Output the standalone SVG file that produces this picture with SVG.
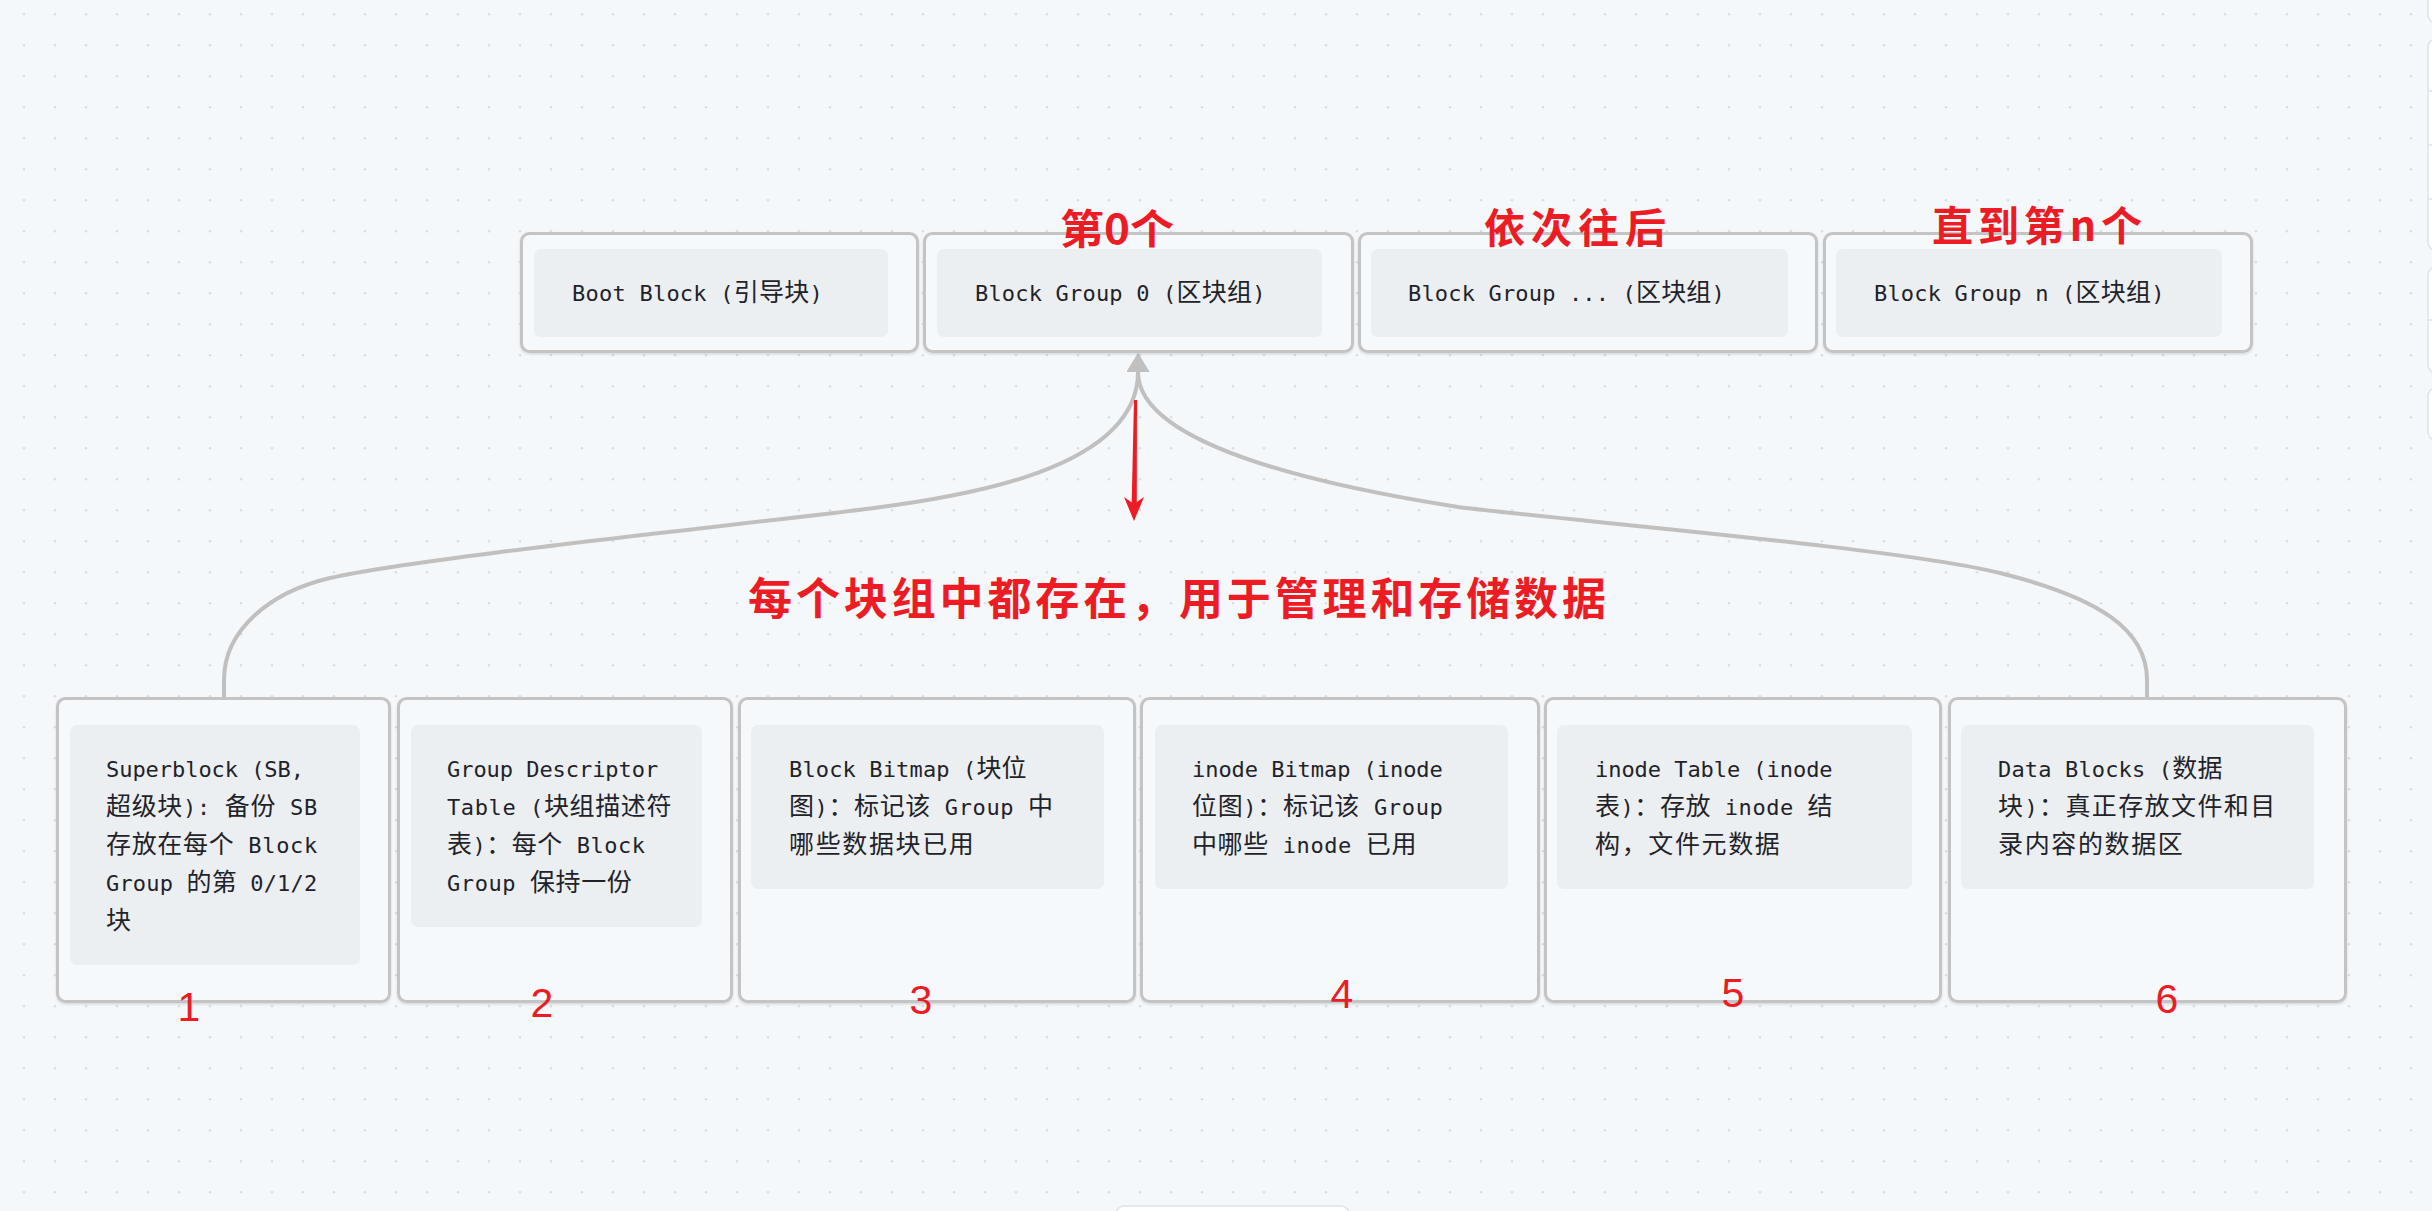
<svg xmlns="http://www.w3.org/2000/svg" width="2432" height="1211" viewBox="0 0 2432 1211">
<defs>
<style>
.t{font-family:"DejaVu Sans Mono","Noto Sans CJK SC",monospace;font-size:22px;fill:#1f2329}
.c{font-family:"Noto Sans CJK SC","DejaVu Sans",sans-serif;font-size:25px}
.outer{fill:#f5f9fc;stroke:#c4c4c4;stroke-width:3;filter:url(#sh)}
.inner{fill:#eceff2}
.edge{fill:none;stroke:#c0c0c0;stroke-width:4}
.red{fill:#ed1c24;font-family:"Noto Sans CJK SC",sans-serif;font-weight:700}
.num{fill:#ed1c24;font-family:"Liberation Sans",sans-serif;font-size:41px;text-anchor:middle}
.tool{fill:#ffffff;stroke:#dde2e8;stroke-width:1.5}
</style>
<pattern id="dots" x="0" y="0" width="31" height="31" patternUnits="userSpaceOnUse">
<circle cx="24" cy="14.3" r="1.3" fill="#dadee3"/>
</pattern>
<filter id="sh" x="-5%" y="-5%" width="110%" height="115%">
<feDropShadow dx="0" dy="1.5" stdDeviation="1" flood-color="#000" flood-opacity="0.12"/>
</filter>
<marker id="arr" viewBox="0 0 19 23" refX="0" refY="11.5" markerWidth="19" markerHeight="23" markerUnits="userSpaceOnUse" orient="auto">
<path d="M0,0 L19,11.5 L0,23 Z" fill="#c0c0c0"/>
</marker>
</defs>
<rect x="0" y="0" width="2432" height="1211" fill="#f4f8fb"/>
<rect x="0" y="0" width="2432" height="1211" fill="url(#dots)"/>

<g id="toolbar">
<rect class="tool" x="2428" y="-10" width="30" height="33" rx="8"/>
<rect class="tool" x="2428" y="39" width="30" height="211" rx="8"/>
<line x1="2428" y1="91" x2="2432" y2="91" stroke="#dde2e8" stroke-width="1.5"/>
<line x1="2428" y1="145" x2="2432" y2="145" stroke="#dde2e8" stroke-width="1.5"/>
<line x1="2428" y1="199" x2="2432" y2="199" stroke="#dde2e8" stroke-width="1.5"/>
<rect class="tool" x="2428" y="267" width="30" height="106" rx="8"/>
<line x1="2428" y1="320" x2="2432" y2="320" stroke="#dde2e8" stroke-width="1.5"/>
<rect class="tool" x="2428" y="388" width="30" height="52" rx="8"/>
<rect class="tool" x="1116" y="1206" width="233" height="30" rx="8"/>
</g>

<g id="connectors">
<path class="edge" d="M224,697 L224,680 C224,630 270,592 330,578 C420,557 760,523 874,508 C960,497 1138,470 1138,372" marker-end="url(#arr)"/>
<path class="edge" d="M2147,697 L2147,680 C2147,630 2100,598 2000,573 C1900,548 1560,520 1458,507 C1350,490 1138,450 1138,372" marker-end="url(#arr)"/>
</g>

<g id="boot-block">
<rect class="outer" x="521.5" y="233.5" width="396" height="118" rx="8"/>
<rect class="inner" x="534" y="249" width="354" height="88" rx="7"/>
<text class="t" x="572" y="301" textLength="250.8" lengthAdjust="spacing">Boot Block (<tspan class="c">引导块</tspan>)</text>
</g>
<g id="block-group-0">
<rect class="outer" x="924.5" y="233.5" width="428" height="118" rx="8"/>
<rect class="inner" x="937" y="249" width="385" height="88" rx="7"/>
<text class="t" x="975" y="301" textLength="290.4" lengthAdjust="spacing">Block Group 0 (<tspan class="c">区块组</tspan>)</text>
</g>
<g id="block-group-mid">
<rect class="outer" x="1359.5" y="233.5" width="457" height="118" rx="8"/>
<rect class="inner" x="1371" y="249" width="417" height="88" rx="7"/>
<text class="t" x="1408" y="301" textLength="316.8" lengthAdjust="spacing">Block Group ... (<tspan class="c">区块组</tspan>)</text>
</g>
<g id="block-group-n">
<rect class="outer" x="1824.5" y="233.5" width="427" height="118" rx="8"/>
<rect class="inner" x="1836" y="249" width="386" height="88" rx="7"/>
<text class="t" x="1874" y="301" textLength="290.4" lengthAdjust="spacing">Block Group n (<tspan class="c">区块组</tspan>)</text>
</g>

<g id="superblock">
<rect class="outer" x="57.5" y="698.5" width="332" height="303" rx="8"/>
<rect class="inner" x="70" y="725" width="290" height="240" rx="7"/>
<text class="t" x="106" y="777" textLength="198" lengthAdjust="spacing">Superblock (SB,</text>
<text class="t" x="106" y="815" textLength="211.2" lengthAdjust="spacing"><tspan class="c">超级块</tspan>): <tspan class="c">备份</tspan> SB</text>
<text class="t" x="106" y="853" textLength="211.2" lengthAdjust="spacing"><tspan class="c">存放在每个</tspan> Block</text>
<text class="t" x="106" y="891" textLength="211.2" lengthAdjust="spacing">Group <tspan class="c">的第</tspan> 0/1/2</text>
<text class="t" x="106" y="929"><tspan class="c">块</tspan></text>
</g>
<g id="group-descriptor">
<rect class="outer" x="398.5" y="698.5" width="333" height="303" rx="8"/>
<rect class="inner" x="411" y="725" width="291" height="202" rx="7"/>
<text class="t" x="447" y="777" textLength="211.2" lengthAdjust="spacing">Group Descriptor</text>
<text class="t" x="447" y="815" textLength="224.4" lengthAdjust="spacing">Table (<tspan class="c">块组描述符</tspan></text>
<text class="t" x="447" y="853" textLength="198" lengthAdjust="spacing"><tspan class="c">表</tspan>)<tspan class="c">：每个</tspan> Block</text>
<text class="t" x="447" y="891" textLength="184.8" lengthAdjust="spacing">Group <tspan class="c">保持一份</tspan></text>
</g>
<g id="block-bitmap">
<rect class="outer" x="739.5" y="698.5" width="395" height="303" rx="8"/>
<rect class="inner" x="751" y="725" width="353" height="164" rx="7"/>
<text class="t" x="789" y="777" textLength="237.6" lengthAdjust="spacing">Block Bitmap (<tspan class="c">块位</tspan></text>
<text class="t" x="789" y="815" textLength="264" lengthAdjust="spacing"><tspan class="c">图</tspan>)<tspan class="c">：标记该</tspan> Group <tspan class="c">中</tspan></text>
<text class="t" x="789" y="853" textLength="184.8" lengthAdjust="spacing"><tspan class="c">哪些数据块已用</tspan></text>
</g>
<g id="inode-bitmap">
<rect class="outer" x="1141.5" y="698.5" width="397" height="303" rx="8"/>
<rect class="inner" x="1155" y="725" width="353" height="164" rx="7"/>
<text class="t" x="1192" y="777" textLength="250.8" lengthAdjust="spacing">inode Bitmap (inode</text>
<text class="t" x="1192" y="815" textLength="250.8" lengthAdjust="spacing"><tspan class="c">位图</tspan>)<tspan class="c">：标记该</tspan> Group</text>
<text class="t" x="1192" y="853" textLength="224.4" lengthAdjust="spacing"><tspan class="c">中哪些</tspan> inode <tspan class="c">已用</tspan></text>
</g>
<g id="inode-table">
<rect class="outer" x="1545.5" y="698.5" width="395" height="303" rx="8"/>
<rect class="inner" x="1557" y="725" width="355" height="164" rx="7"/>
<text class="t" x="1595" y="777" textLength="237.6" lengthAdjust="spacing">inode Table (inode</text>
<text class="t" x="1595" y="815" textLength="237.6" lengthAdjust="spacing"><tspan class="c">表</tspan>)<tspan class="c">：存放</tspan> inode <tspan class="c">结</tspan></text>
<text class="t" x="1595" y="853" textLength="184.8" lengthAdjust="spacing"><tspan class="c">构，文件元数据</tspan></text>
</g>
<g id="data-blocks">
<rect class="outer" x="1949.5" y="698.5" width="396" height="303" rx="8"/>
<rect class="inner" x="1961" y="725" width="353" height="164" rx="7"/>
<text class="t" x="1998" y="777" textLength="224.4" lengthAdjust="spacing">Data Blocks (<tspan class="c">数据</tspan></text>
<text class="t" x="1998" y="815" textLength="277.2" lengthAdjust="spacing"><tspan class="c">块</tspan>)<tspan class="c">：真正存放文件和目</tspan></text>
<text class="t" x="1998" y="853" textLength="184.8" lengthAdjust="spacing"><tspan class="c">录内容的数据区</tspan></text>
</g>

<g id="numbers">
<text class="num" x="189" y="1021">1</text>
<text class="num" x="542" y="1017">2</text>
<text class="num" x="921" y="1014">3</text>
<text class="num" x="1342" y="1008">4</text>
<text class="num" x="1733" y="1007">5</text>
<text class="num" x="2167" y="1013">6</text>
</g>

<g id="annotations">
<text class="red" x="1060" y="244" font-size="41" textLength="114" lengthAdjust="spacingAndGlyphs">第0个</text>
<text class="red" x="1484" y="243" font-size="41" textLength="182" lengthAdjust="spacing">依次往后</text>
<text class="red" x="1932" y="241" font-size="41" textLength="210" lengthAdjust="spacing">直到第n个</text>
<text class="red" x="748" y="615" font-size="44" textLength="858" lengthAdjust="spacing">每个块组中都存在，用于管理和存储数据</text>
</g>

<g id="red-arrow">
<polygon points="1134,400 1137,400 1136.8,506 1131.6,506" fill="#ed1c24"/>
<path d="M1124,497 L1134,521 L1144,497 L1134,504 Z" fill="#ed1c24"/>
</g>
</svg>
